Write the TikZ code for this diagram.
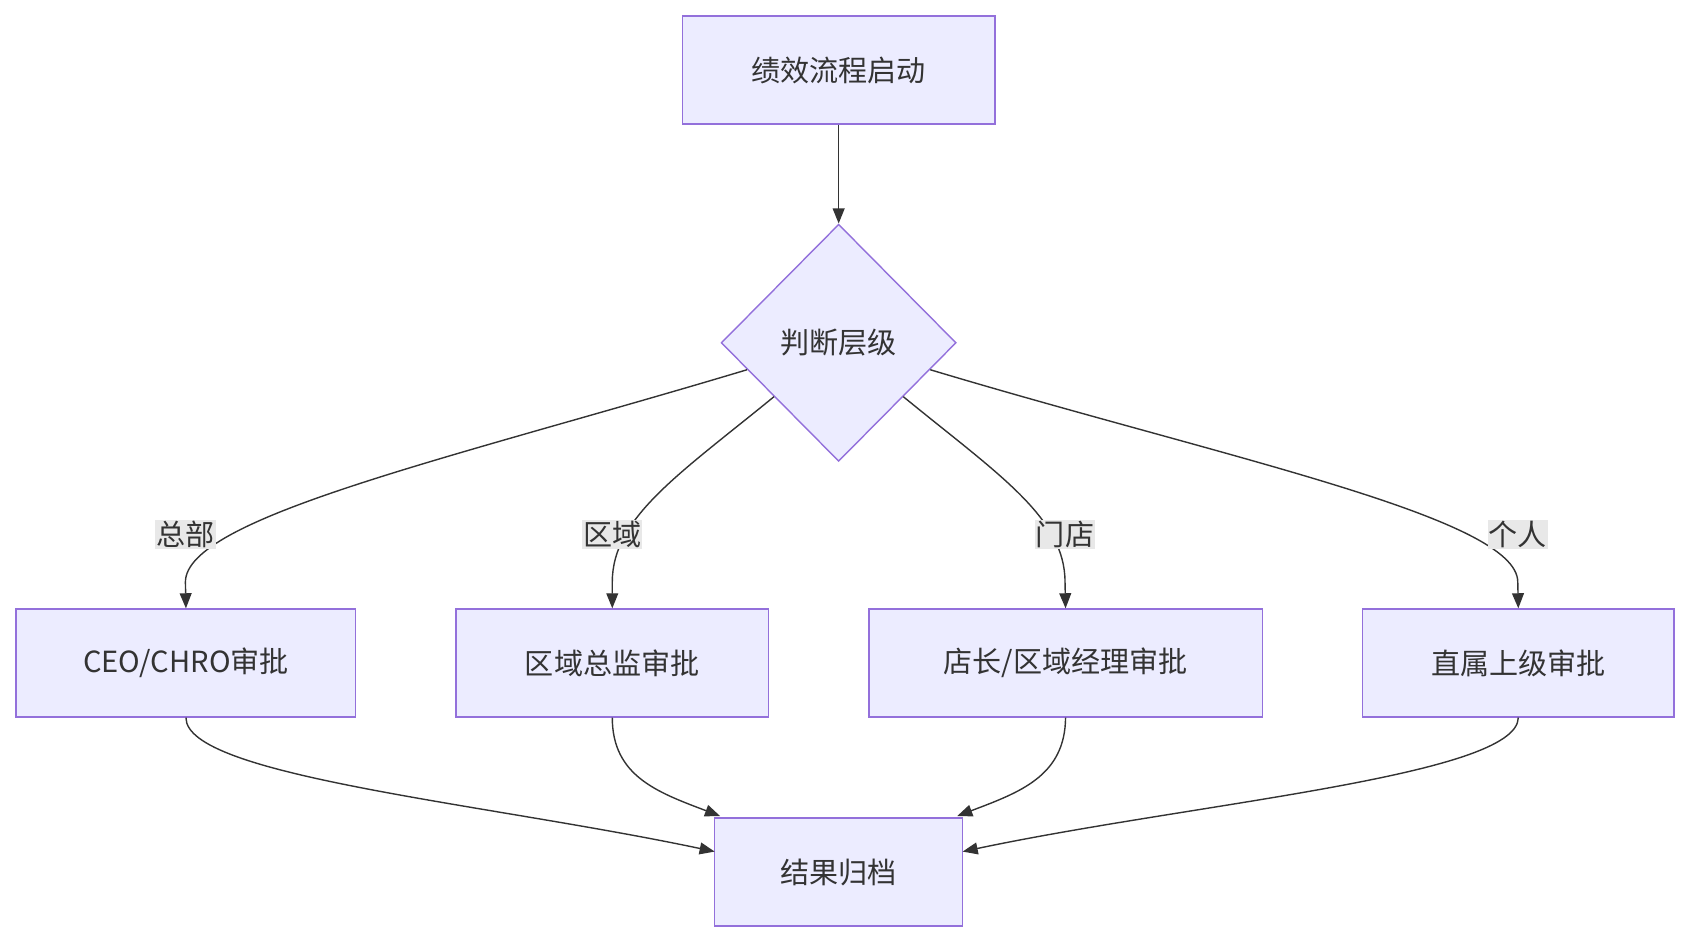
\documentclass[tikz,border=0pt]{standalone}
\usepackage{fontspec}
\setmainfont{Noto Sans CJK SC}
\usetikzlibrary{shapes.geometric,arrows.meta}
\definecolor{nfill}{HTML}{ECECFF}
\definecolor{nline}{HTML}{9370DB}
\definecolor{ed}{HTML}{333333}
\definecolor{lbg}{HTML}{E8E8E8}
\begin{document}
\begin{tikzpicture}[x=1pt,y=-1pt,
 box/.style={draw=nline,fill=nfill,line width=1.3pt,minimum height=100pt,inner sep=0pt,text=ed,font=\fontsize{27}{32}\selectfont},
 dia/.style={diamond,draw=nline,fill=nfill,line width=1.3pt,minimum width=218pt,minimum height=220pt,inner sep=0pt,text=ed,font=\fontsize{27}{32}\selectfont},
 lab/.style={fill=lbg,inner sep=1pt,text=ed,font=\fontsize{27}{32}\selectfont},
 e/.style={draw=ed,line width=1.3pt,-{Triangle[length=14pt,width=11pt]}}]
\useasboundingbox (0,0) rectangle (1565,872);
\node[box,minimum width=290pt] (s) at (778,65) {绩效流程启动};
\node[dia] (d) at (778,318) {判断层级};
\node[box,minimum width=315pt] (b1) at (172.5,615) {CEO/CHRO审批};
\node[box,minimum width=290pt] (b2) at (568,615) {区域总监审批};
\node[box,minimum width=365pt] (b3) at (988.5,615) {店长/区域经理审批};
\node[box,minimum width=289pt] (b4) at (1408.5,615) {直属上级审批};
\node[box,minimum width=230pt] (f) at (778,809) {结果归档};
\coordinate (d1) at (693,343); \coordinate (d2) at (718,368);
\coordinate (d3) at (838,368); \coordinate (d4) at (863,343);
\coordinate (f1) at (663,790); \coordinate (f2) at (668,757);
\coordinate (f3) at (888,757); \coordinate (f4) at (893,790);
\draw[e] (s) -- (d);
\draw[e] (d1) .. controls (420,425) and (172,480) .. (172,540) -- (b1.north);
\draw[e] (d2) .. controls (630,440) and (568,480) .. (568,540) -- (b2.north);
\draw[e] (d3) .. controls (926,440) and (988,480) .. (988,540) -- (b3.north);
\draw[e] (d4) .. controls (1136,425) and (1408,480) .. (1408,540) -- (b4.north);
\node[lab] at (172,496) {总部};
\node[lab] at (568,496) {区域};
\node[lab] at (988,496) {门店};
\node[lab] at (1408,496) {个人};
\draw[e] (b1.south) .. controls (172,720) and (450,745) .. (f1);
\draw[e] (b2.south) .. controls (568,720) and (610,735) .. (f2);
\draw[e] (b3.south) .. controls (988,720) and (946,735) .. (f3);
\draw[e] (b4.south) .. controls (1408,720) and (1106,745) .. (f4);
\end{tikzpicture}
\end{document}
